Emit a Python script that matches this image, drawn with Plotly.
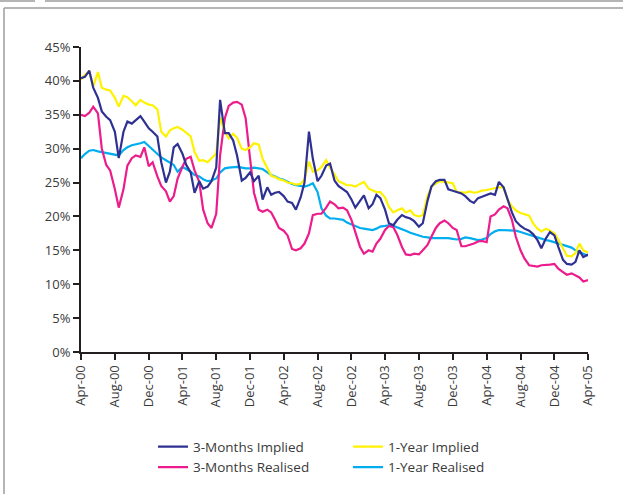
import pandas as pd
import plotly.graph_objects as go

# Semi-monthly observation dates, Apr-2000 .. Apr-2005
dates = pd.date_range("2000-04-01", periods=121, freq="SMS")

impl_3m = [40.4, 40.6, 41.5, 39.0, 37.5, 35.5, 34.7, 34.2, 32.5, 28.6,
           32.5, 34.0, 33.7, 34.2, 34.8, 34.0, 33.0, 32.5, 31.8, 28.0,
           25.0, 26.6, 30.2, 30.7, 29.3, 27.6, 26.5, 23.5, 25.2, 24.1,
           24.4, 25.2, 27.2, 37.2, 32.3, 32.3, 31.2, 29.0, 25.3, 25.7,
           26.5, 25.2, 26.0, 22.5, 24.3, 23.2, 23.5, 23.6, 23.0, 22.2,
           22.0, 21.0, 22.8, 25.0, 32.5, 28.5, 25.2, 26.0, 27.5, 27.8,
           25.3, 24.5, 24.0, 23.6, 22.5, 21.3, 22.3, 23.1, 21.2, 21.8,
           23.2, 22.7, 21.0, 19.0, 18.7, 19.5, 20.2, 19.9, 19.7, 19.3,
           18.5, 19.0, 22.3, 24.4, 25.2, 25.4, 25.4, 24.0, 23.8, 23.6,
           23.4, 23.0, 22.3, 22.0, 22.7, 22.9, 23.2, 23.4, 23.2, 25.1,
           24.3, 22.5, 20.6, 19.3, 18.6, 18.2, 17.9, 17.4, 16.5, 15.3,
           16.8, 17.7, 17.2, 15.5, 13.6, 13.0, 12.9, 13.3, 15.0, 14.0,
           14.4]

real_3m = [35.0, 34.8, 35.3, 36.2, 35.2, 30.0, 27.6, 26.8, 24.0, 21.3,
           24.0, 27.5, 28.6, 29.0, 28.8, 30.2, 27.4, 28.0, 25.9, 24.5,
           23.7, 22.2, 23.0, 25.6, 27.3, 28.5, 28.8, 26.8, 25.1, 21.0,
           19.0, 18.3, 20.4, 29.0, 34.5, 36.3, 36.8, 36.9, 36.5, 34.5,
           28.5, 23.5, 21.0, 20.7, 21.0, 20.6, 19.5, 18.3, 17.9, 17.2,
           15.2, 15.0, 15.3, 16.0, 17.5, 20.2, 20.4, 20.4, 21.3, 22.2,
           21.8, 21.2, 21.3, 20.9, 19.5, 17.8, 15.5, 14.5, 15.0, 14.8,
           16.0, 16.7, 18.0, 18.6, 18.4, 17.3, 15.5, 14.4, 14.3, 14.5,
           14.4, 15.0, 15.8, 17.0, 18.3, 19.0, 19.4, 19.0, 18.3, 18.0,
           15.6, 15.6, 15.8, 16.0, 16.3, 16.4, 16.2, 20.0, 20.3, 21.0,
           21.5, 21.2, 19.5, 17.0, 15.0, 13.8, 12.8, 12.7, 12.6, 12.8,
           12.8, 12.9, 13.0, 12.3, 11.8, 11.4, 11.6, 11.3, 11.0, 10.4,
           10.6]

impl_1y = [40.2, 40.9, 41.4, 39.2, 41.3, 39.0, 38.7, 38.6, 37.5, 36.2,
           37.8, 37.6, 37.0, 36.4, 37.2, 36.8, 36.5, 36.4, 35.8, 32.5,
           31.8, 32.7, 33.0, 33.2, 32.8, 32.3, 31.8, 29.5, 28.2, 28.3,
           28.0, 28.6, 29.3, 34.6, 32.5, 31.5, 32.2, 31.6, 30.0, 29.8,
           30.2, 30.8, 30.6, 28.5, 27.0, 26.0, 25.8, 25.5, 25.3, 25.0,
           24.9, 24.7, 24.8, 25.5, 28.1, 26.6, 26.8, 27.3, 28.3, 27.2,
           26.2, 25.2, 24.9, 24.6, 24.6, 24.4, 24.8, 25.1, 24.1, 23.8,
           23.6, 23.6, 22.8, 21.4, 20.6, 20.9, 21.2, 20.6, 20.9, 20.2,
           20.0, 20.2, 23.0, 24.4, 24.8, 25.2, 25.1, 25.0, 24.9, 23.6,
           23.6, 23.5, 23.7, 23.5, 23.6, 23.8, 23.9, 24.0, 24.2, 24.3,
           24.3, 22.5, 21.5, 20.9, 20.5, 20.3, 20.1, 19.0, 18.2, 17.8,
           18.2, 17.9, 17.5, 16.6, 15.2, 14.2, 14.1, 14.6, 16.0, 15.0,
           14.7]

real_1y = [28.6, 29.2, 29.7, 29.8, 29.6, 29.5, 29.4, 29.3, 29.1, 29.0,
           29.8, 30.2, 30.5, 30.6, 30.8, 31.0, 30.4, 29.8, 29.1, 28.7,
           28.3, 27.9, 27.6, 26.6, 27.3, 27.0, 26.6, 26.1, 25.9, 25.5,
           25.2, 25.3, 25.6, 26.5, 27.1, 27.2, 27.3, 27.3, 27.2, 27.1,
           27.1, 27.2, 27.1, 27.0, 26.5, 26.1, 25.9, 25.6, 25.4, 25.1,
           24.8, 24.6, 24.5, 24.4, 24.6, 24.9, 23.6, 21.2, 20.1, 19.7,
           19.7, 19.6, 19.5, 19.1, 18.8, 18.5, 18.3, 18.2, 18.1, 18.0,
           18.2, 18.5, 18.6, 18.7, 18.6, 18.4, 18.2, 17.9, 17.6, 17.4,
           17.1, 17.0, 16.9, 16.8, 16.8, 16.8, 16.9, 16.8, 16.7, 16.6,
           16.7, 16.9, 16.8, 16.6, 16.5, 16.6, 16.8, 17.4, 17.8, 18.0,
           18.0, 18.0, 18.0, 17.9, 17.7, 17.5, 17.3, 17.1, 16.9, 16.7,
           16.5, 16.4, 16.2, 16.0, 15.9, 15.7, 15.4, 15.0, 14.8, 14.5,
           14.2]

series_names = ["3-Months Implied", "1-Year Implied", "3-Months Realised", "1-Year Realised"]
series_values = [impl_3m, impl_1y, real_3m, real_1y]
series_colors = ["#2E3192", "#FFF200", "#EC1C8C", "#00AEEF"]

tick_dates = pd.date_range("2000-04-01", "2005-04-01", freq="4MS")
y_ticks = list(range(0, 50, 5))

fig = go.Figure()
# draw order: realised underneath, implied on top
for idx in [3, 2, 1, 0]:
    fig.add_trace(go.Scatter(
        x=dates, y=series_values[idx], mode="lines", name=series_names[idx],
        line=dict(color=series_colors[idx], width=2.2), legendrank=idx + 1,
    ))

font_col = "#3a3a3a"
fig.update_layout(
    width=624, height=495,
    margin=dict(l=81, r=36, t=47, b=143, autoexpand=False),
    paper_bgcolor="white", plot_bgcolor="white",
    font=dict(family="Open Sans, Noto Sans, sans-serif", size=13, color=font_col),
    showlegend=True,
    legend=dict(orientation="h", x=0.142, xanchor="left", y=-0.26, yanchor="top",
                entrywidth=150, entrywidthmode="pixels", traceorder="normal",
                font=dict(size=13.5, color=font_col), itemwidth=30,
                bgcolor="rgba(0,0,0,0)", tracegroupgap=0),
    xaxis=dict(range=[tick_dates[0], tick_dates[-1]], tickvals=tick_dates,
               tickformat="%b-%y", tickangle=-90, showgrid=False, zeroline=False,
               showline=True, linecolor="#231f20", linewidth=2, automargin=False,
               ticks="outside", ticklen=6, tickwidth=2, tickcolor="#231f20",
               tickfont=dict(size=13, color=font_col)),
    yaxis=dict(range=[0, 45], tickvals=y_ticks, automargin=False,
               ticktext=[f"{v}%" for v in y_ticks], showgrid=False, zeroline=False,
               showline=True, linecolor="#231f20", linewidth=2,
               ticks="outside", ticklen=6, tickwidth=2, tickcolor="#231f20",
               tickfont=dict(size=13, color=font_col)),
)

# decorative frame lines around the panel (paper coordinates relative to plot area)
frame_col = "#9d9d9d"
px_to_x = lambda px: (px - 81) / 507
px_to_y = lambda py: (352 - py) / 305
frame_segments = [
    (4, 8, 4, 494),      # left edge
    (4, 8, 623, 8),      # top edge
    (0, 1, 35, 1),       # upper strip, left piece
    (45, 1, 623, 1),     # upper strip, right piece
]
for (ax0, ay0, ax1, ay1) in frame_segments:
    fig.add_shape(type="line", xref="paper", yref="paper", layer="above",
                  x0=px_to_x(ax0), x1=px_to_x(ax1), y0=px_to_y(ay0), y1=px_to_y(ay1),
                  line=dict(color=frame_col, width=1.5))

fig.write_html("out.html", config={"displayModeBar": False},
               post_script="document.body.style.margin='0';")
